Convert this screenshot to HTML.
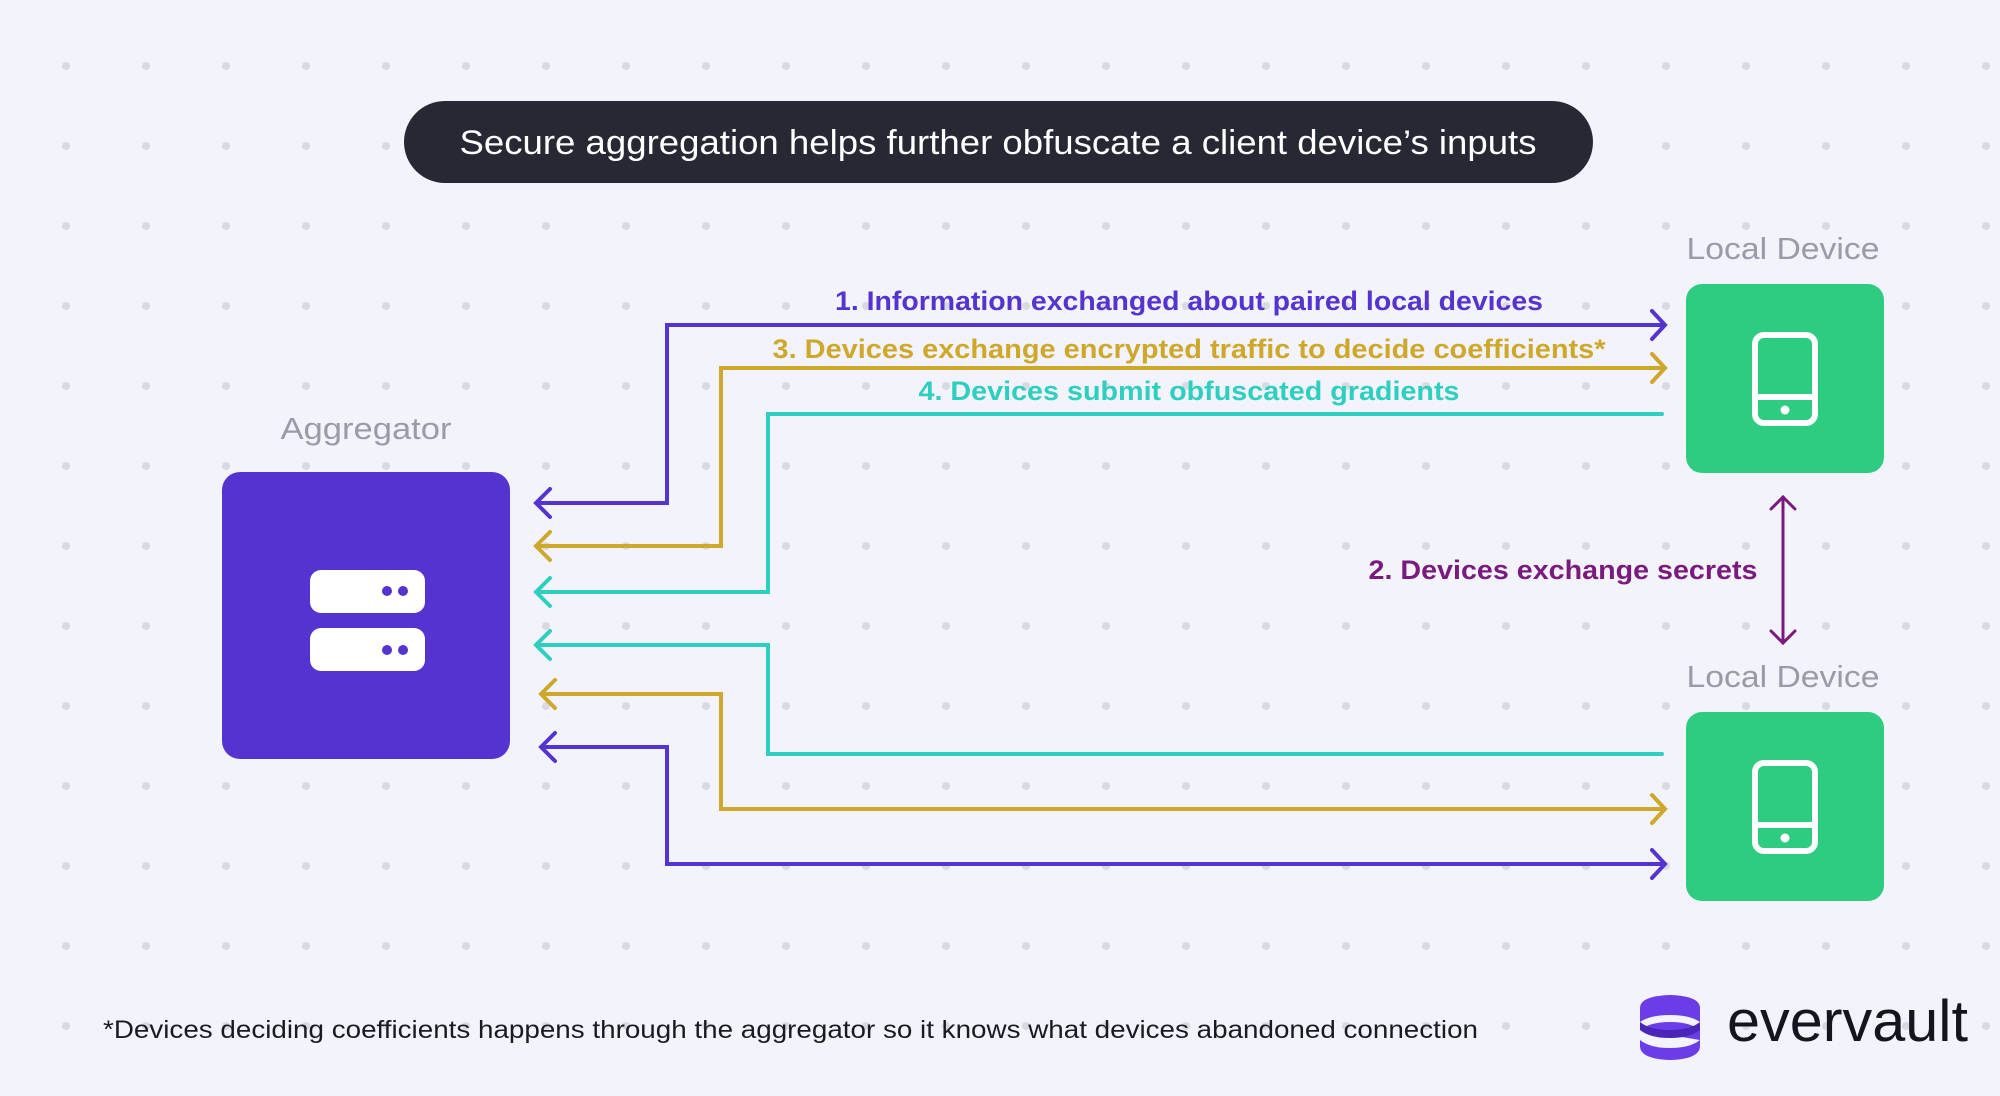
<!DOCTYPE html>
<html><head><meta charset="utf-8"><style>
html,body{margin:0;padding:0;background:#f3f3fc;}
svg{display:block;}
text{font-family:"Liberation Sans",sans-serif;}
</style></head><body>
<svg width="2000" height="1096" viewBox="0 0 2000 1096" xmlns="http://www.w3.org/2000/svg">
<defs>
<pattern id="dots" x="26" y="26" width="80" height="80" patternUnits="userSpaceOnUse">
<circle cx="40" cy="40" r="4" fill="#d9d9e0"/>
</pattern>
</defs>
<rect width="2000" height="1096" fill="#f3f3fc"/>
<rect width="2000" height="1096" fill="url(#dots)"/>

<!-- title -->
<rect x="404" y="101" width="1189" height="82" rx="41" fill="#262833"/>
<text x="998" y="154" font-size="34" fill="#ffffff" text-anchor="middle" textLength="1077" lengthAdjust="spacingAndGlyphs">Secure aggregation helps further obfuscate a client device’s inputs</text>

<!-- aggregator -->
<text x="366" y="439" font-size="31" fill="#9a9aa8" text-anchor="middle" textLength="171" lengthAdjust="spacingAndGlyphs">Aggregator</text>
<rect x="222" y="472" width="288" height="287" rx="18" fill="#5533d1"/>
<rect x="310" y="570" width="115" height="43" rx="11" fill="#fff"/>
<rect x="310" y="628" width="115" height="43" rx="11" fill="#fff"/>
<circle cx="387" cy="591" r="5" fill="#5533d1"/><circle cx="403" cy="591" r="5" fill="#5533d1"/>
<circle cx="387" cy="650" r="5" fill="#5533d1"/><circle cx="403" cy="650" r="5" fill="#5533d1"/>

<!-- devices -->
<text x="1783" y="259" font-size="31" fill="#9a9aa8" text-anchor="middle" textLength="193" lengthAdjust="spacingAndGlyphs">Local Device</text>
<rect x="1686" y="284" width="198" height="189" rx="16" fill="#2ecc80"/>
<g fill="none" stroke="#fff" stroke-width="6">
<rect x="1755" y="335" width="60" height="88" rx="9"/>
<line x1="1755" y1="397" x2="1815" y2="397"/>
</g>
<circle cx="1785" cy="410" r="4.5" fill="#fff"/>

<text x="1783" y="687" font-size="31" fill="#9a9aa8" text-anchor="middle" textLength="193" lengthAdjust="spacingAndGlyphs">Local Device</text>
<rect x="1686" y="712" width="198" height="189" rx="16" fill="#2ecc80"/>
<g fill="none" stroke="#fff" stroke-width="6">
<rect x="1755" y="763" width="60" height="88" rx="9"/>
<line x1="1755" y1="825" x2="1815" y2="825"/>
</g>
<circle cx="1785" cy="838" r="4.5" fill="#fff"/>

<!-- connectors -->
<g fill="none" stroke-width="4" stroke-linecap="round" stroke-linejoin="miter">
<g stroke="#5533d1">
<polyline points="1664,325 667,325 667,503 537,503"/>
<polyline points="1652,311 1665,325 1652,339"/>
<polyline points="550,489 536,503 550,517"/>
<polyline points="542,747 667,747 667,864 1664,864"/>
<polyline points="555,733 541,747 555,761"/>
<polyline points="1652,850 1665,864 1652,878"/>
</g>
<g stroke="#cfa72b">
<polyline points="1664,368 721,368 721,546 537,546"/>
<polyline points="1652,354 1665,368 1652,382"/>
<polyline points="550,532 536,546 550,560"/>
<polyline points="542,694 721,694 721,809 1664,809"/>
<polyline points="555,680 541,694 555,708"/>
<polyline points="1652,795 1665,809 1652,823"/>
</g>
<g stroke="#2ecfc0">
<polyline points="1662,414 768,414 768,592 537,592"/>
<polyline points="550,578 536,592 550,606"/>
<polyline points="537,645 768,645 768,754 1662,754"/>
<polyline points="550,631 536,645 550,659"/>
</g>
<g stroke="#7a1a7f" stroke-width="3">
<line x1="1783" y1="497" x2="1783" y2="643"/>
<polyline points="1771,509 1783,497 1795,509"/>
<polyline points="1771,631 1783,643 1795,631"/>
</g>
</g>

<!-- labels -->
<g font-size="27" font-weight="bold" text-anchor="middle">
<text x="1189" y="310" fill="#5533d1" textLength="708" lengthAdjust="spacingAndGlyphs">1. Information exchanged about paired local devices</text>
<text x="1189" y="358" fill="#cfa72b" textLength="833" lengthAdjust="spacingAndGlyphs">3. Devices exchange encrypted traffic to decide coefficients*</text>
<text x="1189" y="400" fill="#2ecfc0" textLength="541" lengthAdjust="spacingAndGlyphs">4. Devices submit obfuscated gradients</text>
<text x="1563" y="579" fill="#7a1a7f" textLength="389" lengthAdjust="spacingAndGlyphs">2. Devices exchange secrets</text>
</g>

<!-- footnote -->
<text x="103" y="1038" font-size="25" fill="#1a1a24" textLength="1375" lengthAdjust="spacingAndGlyphs">*Devices deciding coefficients happens through the aggregator so it knows what devices abandoned connection</text>

<!-- logo -->
<g>
<path d="M1640,1008 Q1640,996 1670,995 Q1700,996 1700,1008 L1700,1022 Q1690,1015 1670,1015 Q1650,1015 1640,1022 Z" fill="#6a3de8"/>
<path d="M1640,1030 Q1650,1022 1670,1022 Q1690,1022 1700,1030 L1700,1046 Q1700,1059 1670,1060 Q1640,1059 1640,1046 L1640,1040 Q1650,1048 1670,1048 Q1690,1048 1700,1040" fill="#6a3de8"/>
<path d="M1640,1022 Q1650,1030 1670,1030 Q1690,1030 1700,1022 L1700,1030 Q1690,1038 1670,1038 Q1650,1038 1640,1030 Z" fill="#4a25b8"/>
</g>
<text x="1727" y="1041" font-size="58" fill="#15151f" textLength="241" lengthAdjust="spacingAndGlyphs">evervault</text>
</svg>
</body></html>
